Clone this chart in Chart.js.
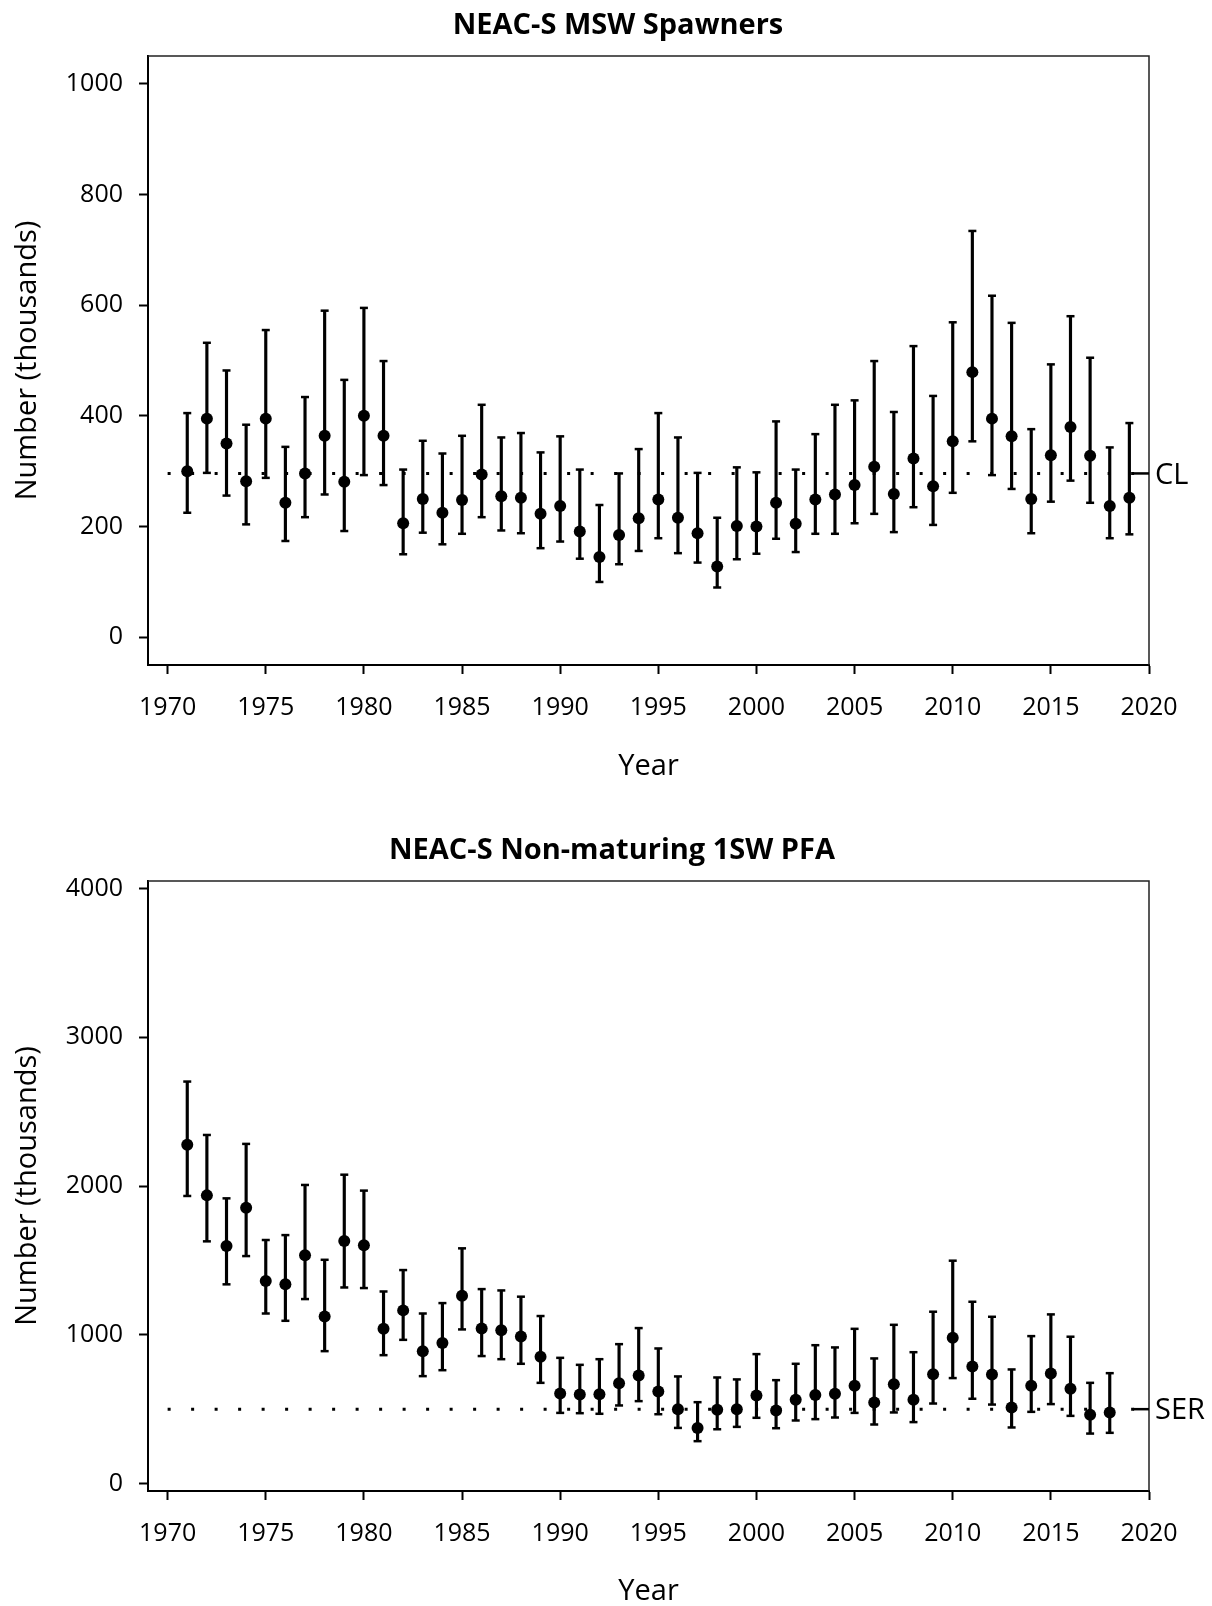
<!DOCTYPE html>
<html lang="en">
<head>
  <meta charset="UTF-8" />
  <title>NEAC-S MSW Spawners and Non-maturing 1SW PFA</title>
  <script src="https://cdn.jsdelivr.net/npm/chart.js"></script>
  <style>
    body { margin: 0; background: #fff; }
    .panel { position: relative; width: 1212px; height: 803px; }
    .panel canvas { position: absolute; left: 0; top: 0; }
    .panel h2 {
      position: absolute; margin: 0; color: #000;
      font: bold 29px 'Open Sans', sans-serif; line-height: 29px;
      white-space: nowrap; transform: translateX(-50%);
    }
  </style>
</head>
<body>
  <div class="panel">
    <canvas id="mswChart" width="1212" height="803"></canvas>
    <h2 style="left:618px; top:8px;">NEAC-S MSW Spawners</h2>
  </div>
  <div class="panel">
    <canvas id="pfaChart" width="1212" height="803"></canvas>
    <h2 style="left:612px; top:30px;">NEAC-S Non-maturing 1SW PFA</h2>
  </div>

  <script>
    // ---- data (thousands of fish) ----
    const mswYears = [1971,1972,1973,1974,1975,1976,1977,1978,1979,1980,
      1981,1982,1983,1984,1985,1986,1987,1988,1989,1990,
      1991,1992,1993,1994,1995,1996,1997,1998,1999,2000,
      2001,2002,2003,2004,2005,2006,2007,2008,2009,2010,
      2011,2012,2013,2014,2015,2016,2017,2018,2019];
    const mswEst = [300,395,350,282,395,243,296,364,281,400,
      364,206,250,225,248,294,255,252,223,237,
      191,145,185,215,249,216,188,128,201,200,
      243,205,249,258,275,308,259,323,273,354,
      479,395,363,250,329,380,328,237,252];
    const mswLow = [225,297,256,204,288,174,217,258,192,293,
      275,150,189,168,187,217,193,188,161,173,
      142,100,132,156,179,152,135,90,141,151,
      178,154,187,187,206,223,190,235,203,261,
      354,293,268,188,245,283,243,179,186];
    const mswHigh = [405,532,482,384,555,344,434,590,465,595,
      499,303,355,332,364,420,361,369,334,363,
      303,239,296,340,405,361,297,216,307,298,
      390,303,367,420,428,499,407,526,436,569,
      734,617,568,376,493,580,505,343,387];
    const mswCL = 296;

    const pfaYears = [1971,1972,1973,1974,1975,1976,1977,1978,1979,1980,
      1981,1982,1983,1984,1985,1986,1987,1988,1989,1990,
      1991,1992,1993,1994,1995,1996,1997,1998,1999,2000,
      2001,2002,2003,2004,2005,2006,2007,2008,2009,2010,
      2011,2012,2013,2014,2015,2016,2017,2018];
    const pfaEst = [2278,1937,1596,1854,1361,1339,1534,1123,1630,1601,
      1040,1164,890,944,1262,1043,1031,989,852,605,
      599,601,675,726,619,500,374,496,500,592,
      491,563,596,603,657,545,668,563,735,980,
      787,733,511,657,740,637,462,478];
    const pfaLow = [1933,1628,1339,1529,1143,1094,1240,890,1318,1314,
      863,966,722,762,1036,857,836,805,677,475,
      473,469,525,554,466,374,285,365,381,442,
      372,424,433,444,475,397,478,413,538,709,
      570,531,377,482,534,455,336,341];
    const pfaHigh = [2702,2343,1917,2283,1637,1670,2007,1504,2076,1969,
      1291,1435,1143,1213,1581,1307,1298,1256,1126,845,
      798,836,937,1045,908,720,547,713,700,870,
      695,805,930,915,1040,841,1067,883,1155,1498,
      1222,1121,767,991,1137,987,677,742];
    const pfaSER = 500;

    const yearTicks = [1970,1975,1980,1985,1990,1995,2000,2005,2010,2015,2020];
    const mswTicks = [0,200,400,600,800,1000];
    const pfaTicks = [0,1000,2000,3000,4000];
    const refSpan = [1970, 2020];

    Chart.defaults.font.family = "'Open Sans', sans-serif";
    Chart.defaults.color = '#000';

    // top and right sides of the plot box
    const framePlugin = {
      id: 'frame',
      afterDatasetsDraw(chart) {
        const { ctx, chartArea: a } = chart;
        ctx.save();
        ctx.strokeStyle = '#222';
        ctx.lineWidth = 1.5;
        ctx.beginPath();
        ctx.moveTo(a.left, a.top);
        ctx.lineTo(a.right, a.top);
        ctx.lineTo(a.right, a.bottom);
        ctx.stroke();
        ctx.restore();
      }
    };

    // short solid end of the reference line + its label (CL / SER)
    const refLabelPlugin = {
      id: 'refLabel',
      afterDatasetsDraw(chart, args, opts) {
        const { ctx, chartArea: a, scales: { y } } = chart;
        const py = y.getPixelForValue(opts.value);
        ctx.save();
        ctx.strokeStyle = '#000';
        ctx.lineWidth = 2.5;
        ctx.beginPath();
        ctx.moveTo(a.right - 16, py);
        ctx.lineTo(a.right, py);
        ctx.stroke();
        ctx.fillStyle = '#000';
        ctx.font = "29px 'Open Sans', sans-serif";
        ctx.textBaseline = 'middle';
        ctx.fillText(opts.text, a.right + 6, py + 2);
        ctx.restore();
      }
    };

    function makeChart(id, o) {
      const pts = o.years.map((x, i) => ({ x, y: o.est[i] }));
      const bars = o.years.map((x, i) => ({ x, y: [o.low[i], o.high[i]] }));
      const caps = o.years.map((x, i) => ({ x, y: o.low[i] }))
        .concat(o.years.map((x, i) => ({ x, y: o.high[i] })));

      return new Chart(document.getElementById(id), {
        type: 'scatter',
        data: {
          datasets: [
            { type: 'scatter', data: pts, pointRadius: 6,
              backgroundColor: '#000', borderWidth: 0 },
            { type: 'scatter', data: caps, pointStyle: 'line', pointRadius: 4,
              borderColor: '#000', pointBorderWidth: 2.5 },
            { type: 'bar', data: bars, barThickness: 2.5,
              backgroundColor: '#000', borderWidth: 0 },
            { type: 'line', data: refSpan.map(x => ({ x, y: o.ref })),
              borderColor: '#000', borderWidth: 3, borderDash: [3, 20.5],
              borderCapStyle: 'butt', pointRadius: 0, fill: false }
          ]
        },
        options: {
          responsive: false,
          animation: false,
          events: [],
          layout: { padding: { top: o.padTop, right: 63, left: 0, bottom: 0 } },
          plugins: {
            legend: { display: false },
            tooltip: { enabled: false },
            refLabel: { value: o.ref, text: o.refText }
          },
          scales: {
            x: {
              type: 'linear', min: 1969, max: 2020, offset: false,
              afterBuildTicks: s => { s.ticks = yearTicks.map(v => ({ value: v })); },
              afterFit: s => { s.height = o.xHeight; },
              ticks: { callback: v => String(v), padding: 19, font: { size: 25 }, color: '#000' },
              grid: { display: true, drawOnChartArea: false, offset: false,
                      tickLength: 9, tickWidth: 2, tickColor: '#000' },
              border: { display: true, color: '#000', width: 2 },
              title: { display: true, text: 'Year', color: '#000',
                       font: { size: 29, lineHeight: 1 },
                       padding: { top: 0, bottom: o.yearPad } }
            },
            y: {
              type: 'linear', min: o.yMin, max: o.yMax,
              afterBuildTicks: s => { s.ticks = o.yTicks.map(v => ({ value: v })); },
              afterFit: s => { s.width = 148; },
              ticks: { callback: v => String(v), padding: 16, font: { size: 25 }, color: '#000' },
              grid: { display: true, drawOnChartArea: false,
                      tickLength: 9, tickWidth: 2, tickColor: '#000' },
              border: { display: true, color: '#000', width: 2 },
              title: { display: true, text: 'Number (thousands)', color: '#000',
                       font: { size: 29, lineHeight: 1 },
                       padding: { top: 13, bottom: 0 } }
            }
          }
        },
        plugins: [framePlugin, refLabelPlugin]
      });
    }

    makeChart('mswChart', {
      years: mswYears, est: mswEst, low: mswLow, high: mswHigh,
      yTicks: mswTicks, yMin: -50, yMax: 1050,
      ref: mswCL, refText: 'CL',
      padTop: 56, xHeight: 138, yearPad: 22
    });

    makeChart('pfaChart', {
      years: pfaYears, est: pfaEst, low: pfaLow, high: pfaHigh,
      yTicks: pfaTicks, yMin: -50, yMax: 4050,
      ref: pfaSER, refText: 'SER',
      padTop: 78, xHeight: 115, yearPad: 0
    });
  </script>
</body>
</html>
